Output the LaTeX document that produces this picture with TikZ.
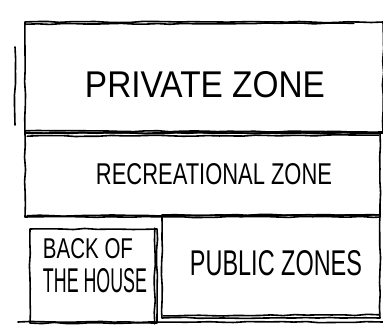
\documentclass[tikz,border=0pt]{standalone}
\usepackage{fontspec}
\usepackage{graphicx}
\setmainfont{Liberation Sans}
\usetikzlibrary{decorations.pathmorphing}
\tikzset{
  sketch/.style={line width=1.6pt, black, line join=round, line cap=round,
    decorate, decoration={random steps, segment length=12pt, amplitude=0.6pt}},
  zonebox/.style={draw, sketch, rectangle, inner sep=0pt},
  zlabel/.style={inner sep=0pt, black},
}
\begin{document}
\begin{tikzpicture}[x=1pt,y=-1pt]
\pgfmathsetseed{7}
\useasboundingbox (0,0) rectangle (383,329);
\fill[white] (0,0) rectangle (383,329);
% boxes
\node[zonebox, minimum width=358pt, minimum height=111pt] (priv) at (204,77.5) {};
\node[zonebox, minimum width=355pt, minimum height=84pt] (rec) at (202.5,175) {};
\node[zonebox, minimum width=127pt, minimum height=94pt] (back) at (93.5,276) {};
\node[zonebox, minimum width=218pt, minimum height=103pt] (pub) at (271,266.5) {};
% second sketch strokes
\draw[sketch] ([shift={(2,3)}]priv.north west) -- ([shift={(-30,2)}]priv.north east);
\draw[sketch] ([shift={(2,-3)}]priv.south west) -- ([shift={(-1,-2)}]priv.south east);
\draw[sketch] ([shift={(3,4)}]rec.north west) -- ([shift={(-2,3)}]rec.north east);
\draw[sketch] ([shift={(3,-2)}]rec.south west) -- ([shift={(-3,-3)}]rec.south east);
\draw[sketch] ([shift={(-3,0)}]back.north east) -- ([shift={(-3,0)}]back.south east);
\draw[sketch] ([shift={(2,-3)}]pub.south west) -- ([shift={(-2,-4)}]pub.south east);
% extra left stroke and ground line
\coordinate (l1) at (15,47);
\coordinate (l2) at (15,125);
\draw[sketch] (l1) -- (l2);
\coordinate (g1) at (18,322);
\coordinate (g2) at (383,322);
\draw[sketch] (g1) -- (g2);
% labels
\node[zlabel] (t1) at (205,85) {\resizebox{240pt}{26pt}{PRIVATE ZONE}};
\node[zlabel] (t2) at (214,174) {\resizebox{236pt}{21pt}{RECREATIONAL ZONE}};
\node[zlabel] (t3) at (88,249) {\resizebox{90pt}{20pt}{BACK OF}};
\node[zlabel] (t4) at (95,281) {\resizebox{104pt}{24pt}{THE HOUSE}};
\node[zlabel] (t5) at (276,263) {\resizebox{172pt}{25pt}{PUBLIC ZONES}};
\end{tikzpicture}
\end{document}
